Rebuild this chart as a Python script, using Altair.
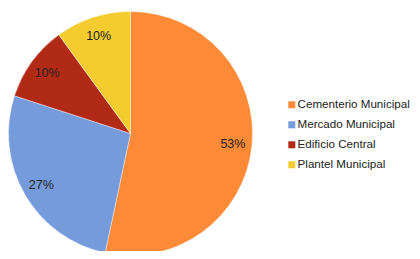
import altair as alt
import pandas as pd

categories = ["Cementerio Municipal", "Mercado Municipal", "Edificio Central", "Plantel Municipal"]
values = [16, 8, 3, 3]
labels = ["53%", "27%", "10%", "10%"]
colors = ["#FD8A37", "#769BDB", "#B02A16", "#F4CC2F"]

df = pd.DataFrame({"cat": categories, "val": values, "lab": labels, "ord": list(range(len(categories)))})

cx, cy = 122.5, 125.5

base = alt.Chart(df).encode(
    theta=alt.Theta("val:Q", stack=True),
    order=alt.Order("ord:Q"),
    x=alt.value(cx),
    y=alt.value(cy),
)

pie = base.mark_arc(radius=122, stroke="white", strokeWidth=0.4).encode(
    color=alt.Color(
        "cat:N",
        scale=alt.Scale(domain=categories, range=colors),
        sort=categories,
        legend=alt.Legend(
            title=None,
            orient="none",
            legendX=278,
            legendY=91,
            symbolType="square",
            symbolSize=49,
            symbolStrokeWidth=0,
            labelFontSize=11.6,
            labelFont="Liberation Sans",
            labelColor="#222222",
            labelOffset=0,
            rowPadding=7,
            padding=0,
        ),
    )
)

text = base.mark_text(radius=103, fontSize=12.5, font="Liberation Sans", color="#222222").encode(
    text="lab:N"
)

chart = (
    (pie + text)
    .properties(width=404, height=243, padding=0, autosize=alt.AutoSizeParams(type="none"))
    .configure_view(stroke=None)
)

chart.save("out.html", embed_options={"renderer": "svg", "actions": False})
